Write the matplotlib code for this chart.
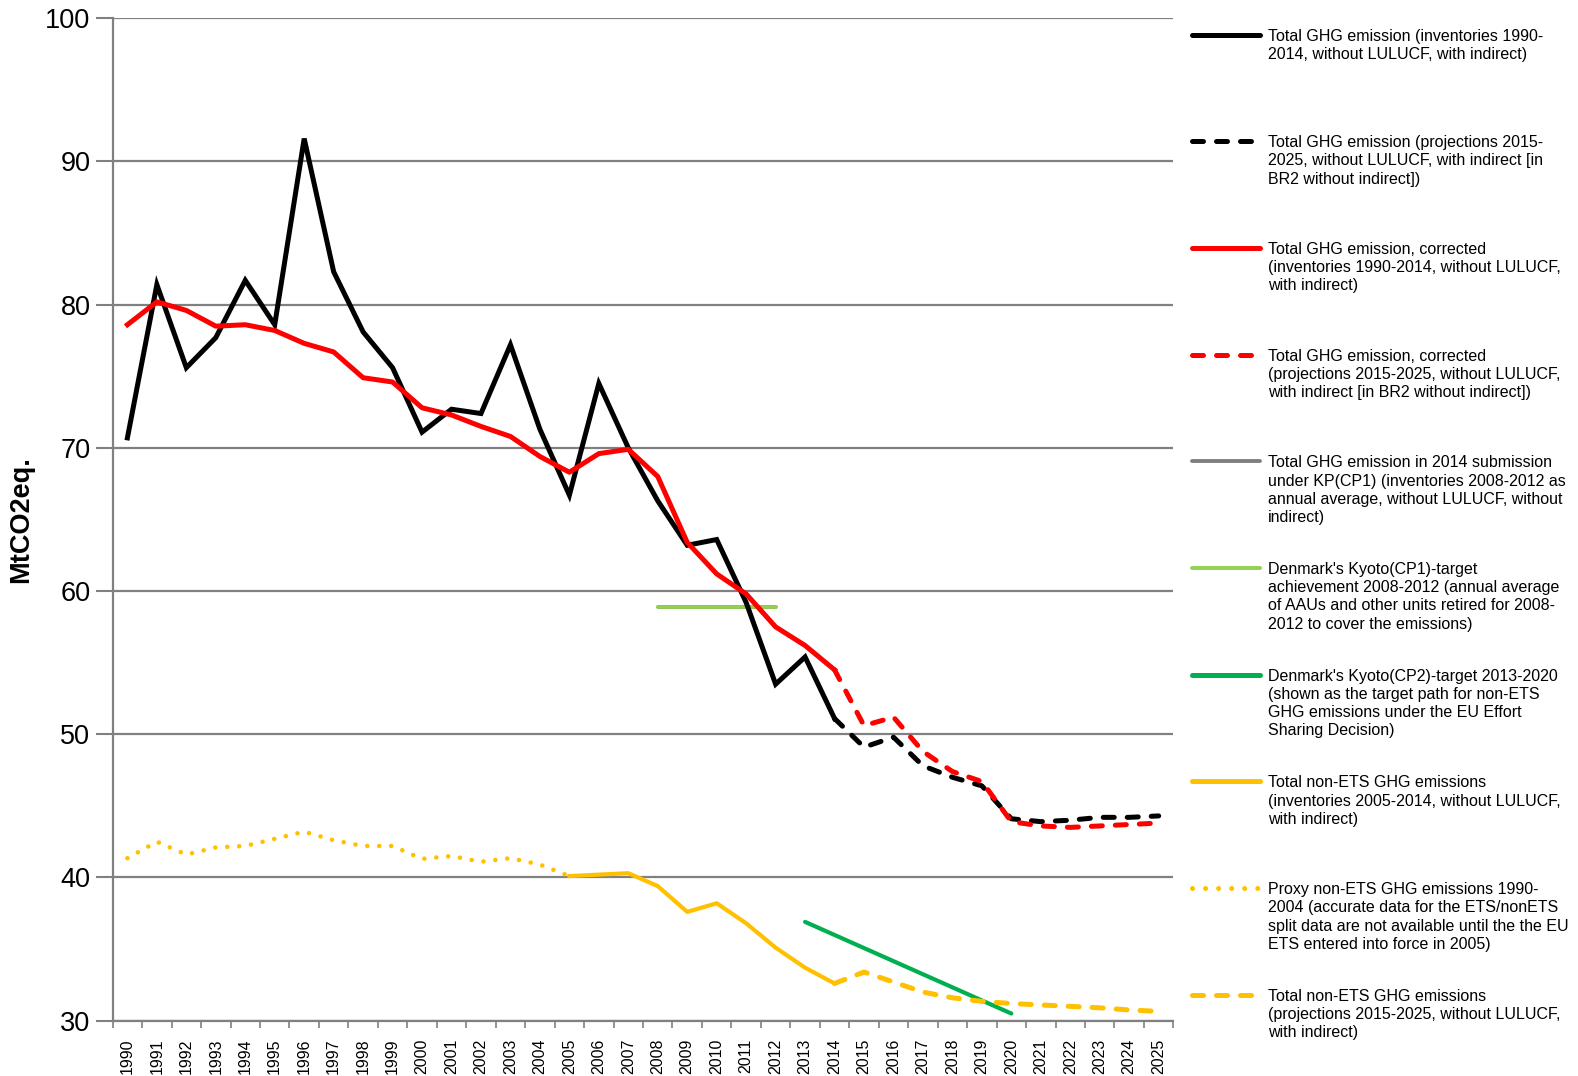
import matplotlib.pyplot as plt
import numpy as np
from matplotlib.lines import Line2D

plt.rcParams['font.family'] = ['Liberation Sans', 'DejaVu Sans']

years = list(range(1990, 2026))

# Total GHG, inventories 1990-2014
ghg_inv = [70.7, 81.4, 75.6, 77.7, 81.7, 78.6, 91.6, 82.3, 78.1, 75.6,
           71.1, 72.7, 72.4, 77.2, 71.3, 66.7, 74.5, 70.0, 66.3, 63.2,
           63.6, 59.2, 53.5, 55.4, 51.1]
# projections 2014-2025 (starts at last inventory year)
ghg_proj = [51.1, 49.1, 49.8, 47.8, 47.0, 46.4, 44.1, 43.9, 44.0, 44.2, 44.2, 44.3]

ghg_corr_inv = [78.6, 80.2, 79.6, 78.5, 78.6, 78.2, 77.3, 76.7, 74.9, 74.6,
                72.8, 72.3, 71.5, 70.8, 69.4, 68.3, 69.6, 69.9, 68.0, 63.4,
                61.2, 59.8, 57.5, 56.2, 54.5]
ghg_corr_proj = [54.5, 50.6, 51.2, 48.8, 47.4, 46.7, 43.9, 43.6, 43.5, 43.6, 43.7, 43.8]

kp_cp1_years = [2008, 2012]
kp_cp1_submission = [58.9, 58.9]
kp_cp1_target = [58.9, 58.9]

cp2_years = [2013, 2020]
cp2_target = [36.9, 30.5]

nonets_inv_years = list(range(2005, 2015))
nonets_inv = [40.1, 40.2, 40.3, 39.4, 37.6, 38.2, 36.8, 35.1, 33.7, 32.6]
nonets_proxy_years = list(range(1990, 2006))
nonets_proxy = [41.35, 42.5, 41.6, 42.1, 42.2, 42.7, 43.2, 42.6, 42.2, 42.2,
                41.3, 41.5, 41.1, 41.35, 40.9, 40.1]
nonets_proj_years = list(range(2014, 2026))
nonets_proj = [32.6, 33.4, 32.7, 32.0, 31.6, 31.35, 31.2, 31.1, 31.0, 30.9, 30.75, 30.65]

labels = [
    "Total GHG emission (inventories 1990-\n2014, without LULUCF, with indirect)",
    "Total GHG emission (projections 2015-\n2025, without LULUCF, with indirect [in\nBR2 without indirect])",
    "Total GHG emission, corrected\n(inventories 1990-2014, without LULUCF,\nwith indirect)",
    "Total GHG emission, corrected\n(projections 2015-2025, without LULUCF,\nwith indirect [in BR2 without indirect])",
    "Total GHG emission in 2014 submission\nunder KP(CP1) (inventories 2008-2012 as\nannual average, without LULUCF, without\nindirect)",
    "Denmark's Kyoto(CP1)-target\nachievement 2008-2012 (annual average\nof AAUs and other units retired for 2008-\n2012 to cover the emissions)",
    "Denmark's Kyoto(CP2)-target 2013-2020\n(shown as the target path for non-ETS\nGHG emissions under the EU Effort\nSharing Decision)",
    "Total non-ETS GHG emissions\n(inventories 2005-2014, without LULUCF,\nwith indirect)",
    "Proxy non-ETS GHG emissions 1990-\n2004 (accurate data for the ETS/nonETS\nsplit data are not available until the the EU\nETS entered into force in 2005)",
    "Total non-ETS GHG emissions\n(projections 2015-2025, without LULUCF,\nwith indirect)",
]

BLACK = "#000000"
RED = "#FF0000"
GRAY = "#808080"
LGREEN = "#92D050"
GREEN = "#00B050"
YELLOW = "#FFC000"

def idx(ys):
    return [y - 1990 for y in ys]

fig = plt.figure(figsize=(15.78, 10.76), dpi=100)
ax = fig.add_axes([0.0714, 0.0514, 0.6722, 0.9316])

dash = (0, (2.2, 2.6))
dot = (0, (0.01, 2.6))
lw = 3.6

styles = [
    dict(color=BLACK, lw=lw, ls="-"),
    dict(color=BLACK, lw=lw, ls=dash, dash_capstyle="round"),
    dict(color=RED, lw=lw, ls="-"),
    dict(color=RED, lw=lw, ls=dash, dash_capstyle="round"),
    dict(color=GRAY, lw=2.6, ls="-"),
    dict(color=LGREEN, lw=2.6, ls="-"),
    dict(color=GREEN, lw=3.0, ls="-"),
    dict(color=YELLOW, lw=3.0, ls="-"),
    dict(color=YELLOW, lw=3.3, ls=dot, dash_capstyle="round"),
    dict(color=YELLOW, lw=3.6, ls=dash, dash_capstyle="round"),
]

ax.plot(idx(kp_cp1_years), kp_cp1_submission, solid_capstyle="round", **styles[4])
ax.plot(idx(kp_cp1_years), kp_cp1_target, solid_capstyle="round", **styles[5])
ax.plot(idx(years[:25]), ghg_inv, solid_joinstyle="miter", **styles[0])
ax.plot(idx(years[24:]), ghg_proj, **styles[1])
ax.plot(idx(years[:25]), ghg_corr_inv, **styles[2])
ax.plot(idx(years[24:]), ghg_corr_proj, **styles[3])
ax.plot(idx(cp2_years), cp2_target, solid_capstyle="round", **styles[6])
ax.plot(idx(nonets_proxy_years), nonets_proxy, **styles[8])
ax.plot(idx(nonets_inv_years), nonets_inv, **styles[7])
ax.plot(idx(nonets_proj_years), nonets_proj, **styles[9])

ax.set_xlim(-0.5, 35.5)
ax.set_ylim(30, 100)
ax.set_yticks(np.arange(30, 101, 10))
ax.tick_params(axis="y", labelsize=19.5, length=12, width=1.5, color=GRAY, pad=4)
ax.set_xticks(range(36))
ax.set_xticklabels([str(y) for y in years], rotation=90, fontsize=11.5)
ax.set_xticks(np.arange(-0.5, 36, 1), minor=True)
ax.tick_params(axis="x", which="major", length=0, pad=13)
ax.tick_params(axis="x", which="minor", length=5, width=1.2, color=GRAY)
ax.grid(axis="y", color=GRAY, lw=1.6)
ax.set_axisbelow(True)
for s in ["top", "right"]:
    ax.spines[s].set_visible(False)
ax.spines["left"].set_color(GRAY)
ax.spines["left"].set_linewidth(1.6)
ax.spines["bottom"].set_color(GRAY)
ax.spines["bottom"].set_linewidth(1.6)
ax.set_ylabel("MtCO2eq.", fontsize=19.5, fontweight="bold", labelpad=8)

# legend drawn on the right, evenly spaced entries
W, H = 1578, 1076
for k, (lab, st) in enumerate(zip(labels, styles)):
    yc = 1 - (34.5 + 106.7 * k) / H
    st = dict(st)
    st["lw"] = 3.6 if k not in (4, 5) else 2.8
    fig.add_artist(Line2D([1192 / W, 1260 / W], [yc, yc], transform=fig.transFigure,
                          solid_capstyle="round", **st))
    fig.text(1268 / W, yc + 6 / H, lab, fontsize=11.5, va="top", ha="left",
             linespacing=1.27)

fig.savefig("out.png", dpi=100)
